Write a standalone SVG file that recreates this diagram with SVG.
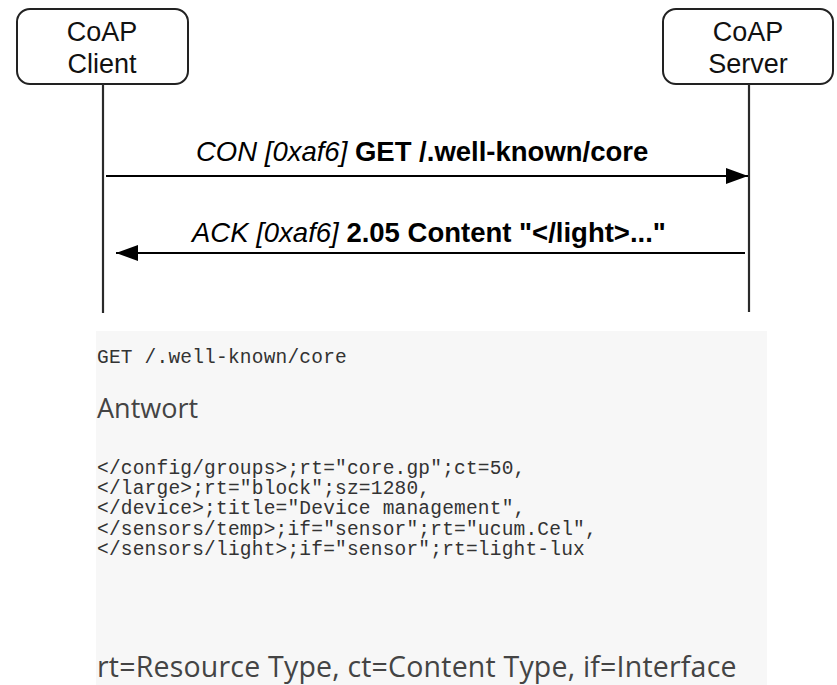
<svg xmlns="http://www.w3.org/2000/svg" width="837" height="685" viewBox="0 0 837 685">
  <defs>
    <marker id="head" viewBox="0 0 22 16" refX="22" refY="8" markerWidth="22" markerHeight="16" markerUnits="userSpaceOnUse" orient="auto">
      <path d="M0,0 L22,8 L0,16 Z" fill="#000"/>
    </marker>
    <style>
      .box { fill: #fff; stroke: #222; stroke-width: 2; }
      .lbl { font-family: "Liberation Sans", Arial, sans-serif; font-size: 27px; fill: #111; text-anchor: middle; }
      .life { stroke: #2a2a2a; stroke-width: 2.2; }
      .msg { stroke: #000; stroke-width: 2; fill: none; marker-end: url(#head); }
      .mtxt { font-family: "Liberation Sans", Arial, sans-serif; font-size: 27.5px; fill: #000; }
      .it { font-style: italic; }
      .bd { font-weight: bold; }
      .mono { font-family: "Liberation Mono", "DejaVu Sans Mono", monospace; font-size: 19.5px; letter-spacing: 0.2px; fill: #333; }
      .sans { font-family: "Open Sans", "Noto Sans", sans-serif; fill: #444; }
    </style>
  </defs>

  <rect x="0" y="0" width="837" height="685" fill="#fff"/>

  <!-- participant: client -->
  <g id="client">
    <rect class="box" x="17" y="9" width="171" height="75" rx="13"/>
    <text class="lbl" x="102" y="41">CoAP</text>
    <text class="lbl" x="102" y="73">Client</text>
  </g>

  <!-- participant: server -->
  <g id="server">
    <rect class="box" x="663" y="9" width="170" height="75" rx="13"/>
    <text class="lbl" x="748" y="41">CoAP</text>
    <text class="lbl" x="748" y="73">Server</text>
  </g>

  <!-- lifelines and messages -->
  <g id="connectors">
    <line class="life" x1="103" y1="84" x2="103" y2="313"/>
    <line class="life" x1="749" y1="84" x2="749" y2="312"/>
    <line class="msg" x1="106" y1="176" x2="748" y2="176"/>
    <line class="msg" x1="745" y1="253" x2="116" y2="253"/>
  </g>

  <g id="msg-request">
    <text class="mtxt" x="196" y="161"><tspan class="it">CON [0xaf6] </tspan><tspan class="bd">GET /.well-known/core</tspan></text>
  </g>
  <g id="msg-response">
    <text class="mtxt" x="192" y="242"><tspan class="it">ACK [0xaf6] </tspan><tspan class="bd">2.05 Content "&lt;/light&gt;..."</tspan></text>
  </g>

  <!-- discovery request / response panel -->
  <g id="panel">
    <rect x="96" y="331" width="671" height="354" fill="#f7f7f7"/>
    <text class="mono" x="97" y="363">GET /.well-known/core</text>
    <text class="sans" x="97" y="418" font-size="27">Antwort</text>
    <text class="mono" x="97" y="474">&lt;/config/groups&gt;;rt="core.gp";ct=50,</text>
    <text class="mono" x="97" y="494">&lt;/large&gt;;rt="block";sz=1280,</text>
    <text class="mono" x="97" y="514">&lt;/device&gt;;title="Device management",</text>
    <text class="mono" x="97" y="535">&lt;/sensors/temp&gt;;if="sensor";rt="ucum.Cel",</text>
    <text class="mono" x="97" y="555">&lt;/sensors/light&gt;;if="sensor";rt=light-lux</text>
    <text class="sans" x="97" y="677" font-size="28.5" letter-spacing="0.2">rt=Resource Type, ct=Content Type, if=Interface</text>
  </g>
</svg>
